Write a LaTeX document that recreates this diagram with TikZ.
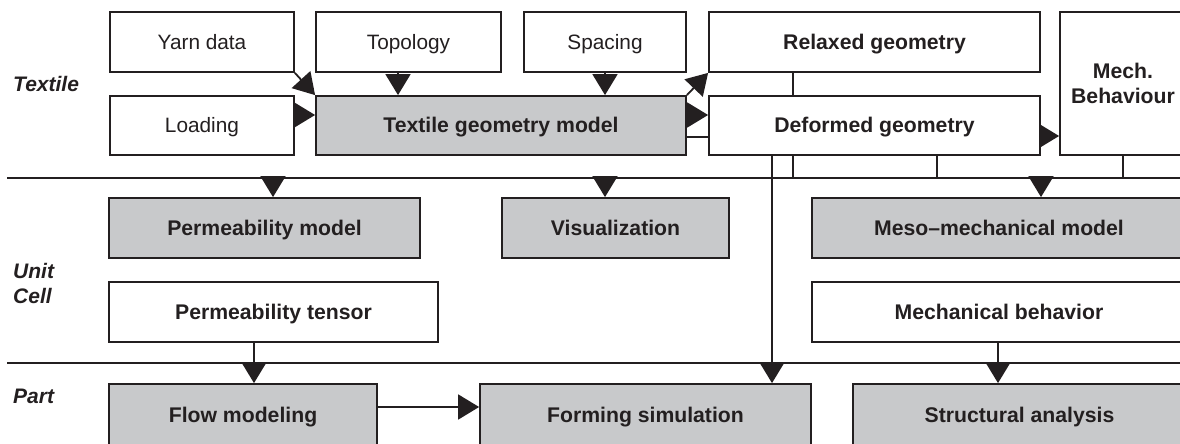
\documentclass[tikz,border=0pt]{standalone}
\usepackage{fontspec}
\setmainfont{Liberation Sans}
\usetikzlibrary{arrows.meta,backgrounds}
\definecolor{boxgray}{RGB}{200,201,203}
\definecolor{ink}{RGB}{35,31,32}
\tikzset{
  base/.style={draw=ink, line width=1.8pt, rectangle, inner sep=0pt, align=center,
    font=\fontsize{20.8}{25}\selectfont, text=ink},
  oneline/.style={text height=14.9pt, text depth=0pt},
  plain/.style={base, oneline, fill=white},
  plainb/.style={base, oneline, fill=white, font=\fontsize{21.2}{25}\selectfont\bfseries},
  twoline/.style={base, fill=white, font=\fontsize{21.2}{25}\selectfont\bfseries},
  model/.style={base, oneline, fill=boxgray, font=\fontsize{21.2}{25}\selectfont\bfseries},
  lvl/.style={anchor=west, inner sep=0pt, align=left, text=ink,
    font=\fontsize{21}{25}\selectfont\bfseries\itshape},
  conn/.style={draw=ink, line width=1.8pt},
  arr/.style={conn, -{Triangle[length=21pt,width=25pt]}},
  sep/.style={draw=ink, line width=2pt}
}
\begin{document}
\begin{tikzpicture}[x=1pt,y=-1pt]
\useasboundingbox (0,0) rectangle (1180,444);
\clip (0,0) rectangle (1180,444);
% textile level
\node[plain, minimum width=184pt, minimum height=60pt] (yarn) at (202,42) {Yarn data};
\node[plain, minimum width=185pt, minimum height=60pt] (topo) at (408.5,42) {Topology};
\node[plain, minimum width=162pt, minimum height=60pt] (spacing) at (605,42) {Spacing};
\node[plainb, minimum width=331pt, minimum height=60pt] (relaxed) at (874.5,42) {Relaxed geometry};
\node[twoline, minimum width=126pt, minimum height=143pt] (mech) at (1123,83.5) {Mech.\\Behaviour};
\node[plain, minimum width=184pt, minimum height=59pt] (loading) at (202,125.5) {Loading};
\node[model, minimum width=370pt, minimum height=59pt] (tgm) at (501,125.5) {Textile geometry model};
\node[plainb, minimum width=331pt, minimum height=59pt] (deformed) at (874.5,125.5) {Deformed geometry};
% unit cell level
\node[model, minimum width=311pt, minimum height=60pt] (permmodel) at (264.5,228) {Permeability model};
\node[model, minimum width=227pt, minimum height=60pt] (visual) at (615.5,228) {Visualization};
\node[model, minimum width=374pt, minimum height=60pt] (meso) at (999,228) {Meso–mechanical model};
\node[plainb, minimum width=329pt, minimum height=60pt] (permtensor) at (273.5,312) {Permeability tensor};
\node[plainb, minimum width=374pt, minimum height=60pt] (mechbeh) at (999,312) {Mechanical behavior};
% part level
\node[model, minimum width=268pt, minimum height=63pt] (flow) at (243,415.5) {Flow modeling};
\node[model, minimum width=331pt, minimum height=63pt] (forming) at (645.5,415.5) {Forming simulation};
\node[model, minimum width=333pt, minimum height=63pt] (struct) at (1019.5,415.5) {Structural analysis};
% level labels
\node[lvl] (ltextile) at (13,84) {Textile};
\node[lvl] (lunit) at (13,283) {Unit\\Cell};
\node[lvl] (lpart) at (13,396) {Part};
% separators
\coordinate (L1a) at (7,178);
\coordinate (L1b) at (1182,178);
\coordinate (L2a) at (7,363);
\coordinate (L2b) at (1182,363);
\begin{pgfonlayer}{background}
\draw[sep] (L1a) -- (L1b);
\draw[sep] (L2a) -- (L2b);
% textile connectors
\draw[arr] (yarn.south east) -- (tgm.north west);
\draw[arr] ([xshift=-10.5pt]topo.south) -- ([xshift=-10.5pt]topo.south |- tgm.north);
\draw[arr] (spacing.south) -- (spacing.south |- tgm.north);
\draw[arr] ([yshift=10.5pt]loading.east) -- ([yshift=10.5pt]loading.east -| tgm.west);
\draw[arr] (tgm.north east) -- (relaxed.south west);
\draw[arr] ([yshift=10.5pt]tgm.east) -- ([yshift=10.5pt]tgm.east -| deformed.west);
\draw[arr] ([yshift=-11.5pt]tgm.east) -| ([xshift=126.5pt]forming.north);
\draw[conn] ([xshift=-81.5pt]relaxed.south) -- ([xshift=-81.5pt]deformed.north);
\draw[arr] ([yshift=-10.5pt]deformed.east) -- ([yshift=-10.5pt]deformed.east -| mech.west);
\draw[conn] ([xshift=-81.5pt]deformed.south) -- ([xshift=-81.5pt]deformed.south |- L1a);
\draw[conn] ([xshift=62.5pt]deformed.south) -- ([xshift=62.5pt]deformed.south |- L1a);
\draw[conn] (mech.south) -- (mech.south |- L1a);
% unit cell connectors
\draw[arr] ([xshift=8.5pt]permmodel.north |- L1a) -- ([xshift=8.5pt]permmodel.north);
\draw[arr] ([xshift=-10.5pt]visual.north |- L1a) -- ([xshift=-10.5pt]visual.north);
\draw[arr] ([xshift=42pt]meso.north |- L1a) -- ([xshift=42pt]meso.north);
% part connectors
\draw[arr] ([xshift=-19.5pt]permtensor.south) -- ([xshift=-19.5pt]permtensor.south |- flow.north);
\draw[arr] ([xshift=-1pt]mechbeh.south) -- ([xshift=-1pt]mechbeh.south |- struct.north);
\draw[arr] ([yshift=8.5pt]flow.east) -- ([yshift=8.5pt]flow.east -| forming.west);
\end{pgfonlayer}
\end{tikzpicture}
\end{document}
